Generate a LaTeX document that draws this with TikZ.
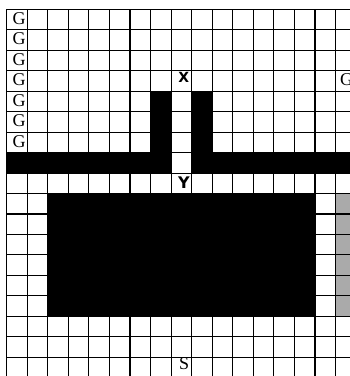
\documentclass[tikz,border=0pt]{standalone}
\usepackage{fontspec}
\setmainfont{Liberation Serif}
\newfontfamily\xyfont{DejaVu Sans}
\definecolor{cellgray}{RGB}{170,170,170}
\begin{document}
\begin{tikzpicture}[x=1pt,y=-1pt,
  gridline/.style={draw=black,line width=1.1pt},
  blackcell/.style={fill=black},
  graycell/.style={fill=cellgray},
  glabel/.style={anchor=base west,inner sep=0pt,font=\fontsize{18}{18}\selectfont},
  xylabel/.style={anchor=base west,inner sep=0pt,font=\xyfont\bfseries\fontsize{14}{14}\selectfont}]
\useasboundingbox (0,0) rectangle (350,376);
\fill[white] (0,0) rectangle (350,376);
\clip (0,0) rectangle (350,376);
\begin{scope}[shift={(6.7pt,-9.3pt)},x=20.55pt,y=-20.47pt]
  % black shapes
  \fill[blackcell] (0,7) rectangle (8,8);
  \fill[blackcell] (9,7) rectangle (18,8);
  \fill[blackcell] (7,4) rectangle (8,7);
  \fill[blackcell] (9,4) rectangle (10,7);
  \fill[blackcell] (2,9) rectangle (15,15);
  \fill[graycell] (16,9) rectangle (18,15);
  % grid
  \foreach \i in {0,...,17} \draw[gridline] (\i,0) -- (\i,19);
  \foreach \j in {0,...,18} \draw[gridline] (0,\j) -- (18,\j);
  % labels
  \foreach \r in {0,...,6} \node[glabel] (g\r) at (0.28,\r+0.74) {G};
  \node[glabel] (gr) at (16.21,3.72) {G};
  \node[glabel] (s) at (8.38,17.62) {S};
  \node[xylabel] (x) at (8.35,3.60) {X};
  \node[xylabel,font=\xyfont\bfseries\fontsize{16}{16}\selectfont] (y) at (8.33,8.73) {Y};
\end{scope}
\end{tikzpicture}
\end{document}
